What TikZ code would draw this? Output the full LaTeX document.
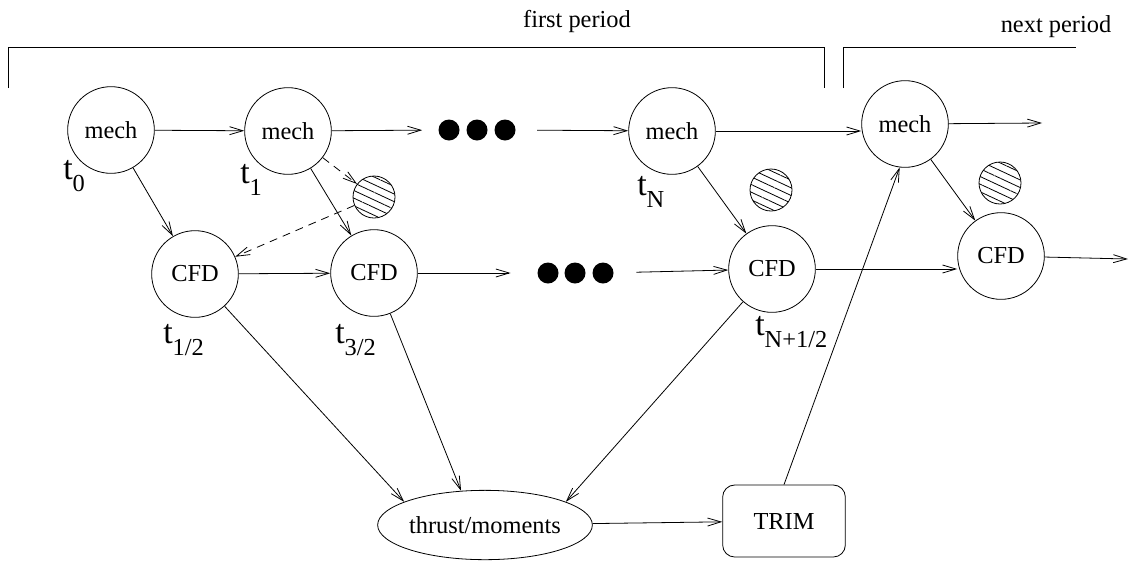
\documentclass[tikz,border=0pt]{standalone}
\usepackage{fontspec}
\newfontfamily\tms{LiberationSerif}[Extension=.ttf, UprightFont=*-Regular]
\usetikzlibrary{arrows.meta,shapes.geometric,patterns.meta}
\begin{document}
\begin{tikzpicture}[x=0.75pt,y=-0.75pt,
  every node/.style={font=\tms\fontsize{18.3}{22}\selectfont},
  circ/.style={draw, circle, minimum size=65pt, inner sep=0pt, line width=0.6pt},
  hatch/.style={draw, circle, minimum size=31.5pt, inner sep=0pt, line width=0.6pt,
    pattern={Lines[angle=-25,distance=5.2pt,line width=0.6pt]}},
  blob/.style={fill=black, circle, minimum size=15.75pt, inner sep=0pt},
  arr/.style={-{Straight Barb[length=10pt,width=6pt]}, line width=0.6pt},
  dasharr/.style={arr, dash pattern=on 6pt off 4.5pt},
  tlab/.style={anchor=base west, inner sep=0pt, font=\tms\fontsize{25.5}{30}\selectfont},
  bracket/.style={line width=0.6pt}
]
\newcommand{\tsub}[1]{t\lower9.5pt\hbox{\tms\fontsize{18.3}{22}\selectfont #1}}
\useasboundingbox (0,0) rectangle (1137,561);

% brackets
\draw[bracket] (8,88) -- (8,47) -- (824,47) -- (824,88);
\draw[bracket] (843,88) -- (843,47) -- (1076,47);
\node[anchor=base, inner sep=0pt] (fp) at (577,27) {first period};
\node[anchor=base, inner sep=0pt] (np) at (1056,32) {next period};

% mech row
\node[circ] (m0) at (111,130) {mech};
\node[circ] (m1) at (288,131) {mech};
\node[circ] (mN) at (672,131) {mech};
\node[circ] (mX) at (905,124) {mech};
\node[blob] (d1a) at (449,130) {};
\node[blob] (d1b) at (477,130) {};
\node[blob] (d1c) at (505,130) {};

% CFD row
\node[circ] (c0) at (195,274) {CFD};
\node[circ] (c1) at (374,273) {CFD};
\node[circ] (cN) at (772,269) {CFD};
\node[circ] (cX) at (1001,256) {CFD};
\node[blob] (d2a) at (548,273) {};
\node[blob] (d2b) at (575,273) {};
\node[blob] (d2c) at (603,273) {};

% hatched
\node[hatch] (h1) at (374,197) {};
\node[hatch] (h2) at (771,190) {};
\node[hatch] (h3) at (1000,183) {};

% bottom
\node[draw, ellipse, minimum width=145pt, minimum height=52pt, inner sep=0pt, line width=0.6pt] (th) at (485,525) {thrust/moments};
\node[draw, rounded corners=9pt, minimum width=92pt, minimum height=54pt, line width=0.6pt] (trim) at (784,521) {TRIM};

% labels
\node[tlab] (l0) at (63,179) {\tsub{0}};
\node[tlab] (l1) at (240,183) {\tsub{1}};
\node[tlab] (lh) at (163,343) {\tsub{1/2}};
\node[tlab] (l3h) at (335,343) {\tsub{3/2}};
\node[tlab] (lN) at (637,195) {\tsub{N}};
\node[tlab] (lNh) at (755,335) {\tsub{N+1/2}};

\coordinate (mXend) at (1042,123);
\coordinate (cXend) at (1128,259);

% mech row arrows
\draw[arr] (m0) -- (m1);
\draw[arr, shorten >=12pt] (m1) -- (d1a);
\draw[arr, shorten <=16pt] (d1c) -- (mN);
\draw[arr] (mN.east) -- (mN.east -| mX.west);
\draw[arr] (mX) -- (mXend);

% CFD row arrows
\draw[arr] (c0) -- (c1);
\draw[arr, shorten >=20pt] (c1) -- (d2a);
\draw[arr, shorten <=17pt] (d2c) -- (cN);
\draw[arr] (cN.east) -- (cN.east -| cX.west);
\draw[arr] (cX) -- (cXend);

% vertical/diagonal
\draw[arr] (m0) -- (c0);
\draw[arr] (m1) -- (c1);
\draw[arr] (mN) -- (cN);
\draw[arr] (mX) -- (cX);
\draw[dasharr] (m1) -- (h1);
\draw[dasharr] (h1) -- (c0);

% to thrust
\draw[arr] (c0) -- (th.164);
\draw[arr] (c1) -- (th.125);
\draw[arr] (cN) -- (th.16);
\draw[arr] (th) -- (trim);
\draw[arr] (trim.north) -- (mX.263);
\end{tikzpicture}
\end{document}
